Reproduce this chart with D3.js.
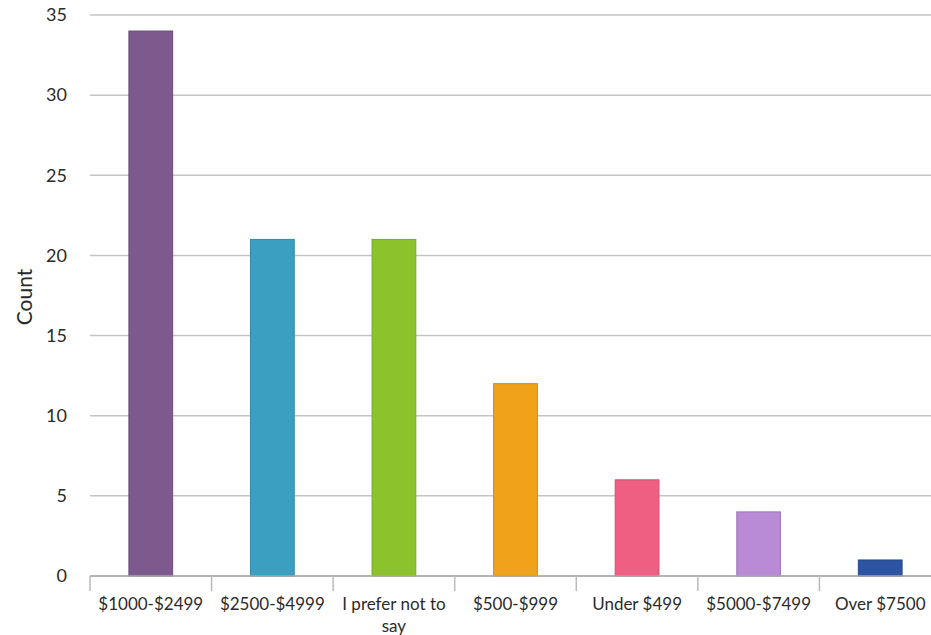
<!DOCTYPE html>
<html>
<head>
<meta charset="utf-8">
<script src="https://cdn.jsdelivr.net/npm/d3@7"></script>
<style>
  body { margin: 0; background: #fff; }
  text { font-family: Lato, "Open Sans", sans-serif; fill: #2b2b2b; }
</style>
</head>
<body>
<div id="chart"></div>
<script>
var categories = ["$1000-$2499", "$2500-$4999", "I prefer not to say", "$500-$999", "Under $499", "$5000-$7499", "Over $7500"];
var counts = [34, 21, 21, 12, 6, 4, 1];
var barColors = ["#7d5a8e", "#3a9fc0", "#8cc32c", "#f0a31a", "#ee5f82", "#b98ad6", "#2d54a3"];
var yTicks = [0, 5, 10, 15, 20, 25, 30, 35];

var margin = {top: 15, right: 0, bottom: 59, left: 90},
    width = 851,
    height = 635 - margin.top - margin.bottom;

var svg = d3.select("#chart")
    .append("svg")
      .attr("width", 931)
      .attr("height", 635)
    .append("g")
      .attr("transform", "translate(" + margin.left + "," + margin.top + ")");

var x = d3.scaleBand()
    .domain(categories)
    .range([0, width])
    .paddingInner(0.64)
    .paddingOuter(0.32);

var y = d3.scaleLinear()
    .domain([0, 35])
    .range([height, 0]);

// gridlines
svg.append("g")
    .selectAll("line")
    .data(yTicks)
    .enter()
    .append("line")
    .attr("x1", 0)
    .attr("x2", width)
    .attr("y1", function (d) { return y(d); })
    .attr("y2", function (d) { return y(d); })
    .attr("stroke", "#c4c4c4")
    .attr("stroke-width", 1.5);

// y tick labels
svg.append("g")
    .selectAll("text")
    .data(yTicks)
    .enter()
    .append("text")
    .attr("x", -23)
    .attr("y", function (d) { return y(d); })
    .attr("dy", "0.35em")
    .style("text-anchor", "end")
    .style("font-size", "18px")
    .text(function (d) { return d; });

// bars
svg.append("g")
    .selectAll("rect")
    .data(counts)
    .enter()
    .append("rect")
    .attr("x", function (d, i) { return x(categories[i]); })
    .attr("y", function (d) { return y(d); })
    .attr("width", x.bandwidth())
    .attr("height", function (d) { return height - y(d); })
    .style("fill", function (d, i) { return barColors[i]; })
    .style("stroke", function (d, i) { return d3.color(barColors[i]).darker(0.4); })
    .style("stroke-width", 1);

// x axis
var step = x.step();
var xAxis = svg.append("g")
    .attr("transform", "translate(0," + height + ")");
xAxis.append("line")
    .attr("x1", 0).attr("x2", width)
    .attr("stroke", "#aaa").attr("stroke-width", 1.5);
xAxis.selectAll(".tick")
    .data(d3.range(categories.length + 1))
    .enter()
    .append("line")
    .attr("x1", function (d) { return d * step; })
    .attr("x2", function (d) { return d * step; })
    .attr("y1", 0)
    .attr("y2", 15)
    .attr("stroke", "#bbb")
    .attr("stroke-width", 1.5);

var labels = xAxis.selectAll(".lab")
    .data(categories)
    .enter()
    .append("text")
    .attr("x", function (d) { return x(d) + x.bandwidth() / 2; })
    .attr("y", 34)
    .style("text-anchor", "middle")
    .style("font-size", "17px");
labels.each(function (d) {
    var t = d3.select(this);
    var lines = d === "I prefer not to say" ? ["I prefer not to", "say"] : [d];
    lines.forEach(function (l, k) {
        t.append("tspan")
            .attr("x", x(d) + x.bandwidth() / 2)
            .attr("dy", k === 0 ? 0 : 22)
            .text(l);
    });
});

// y axis title
svg.append("text")
    .attr("transform", "rotate(-90)")
    .attr("x", -282)
    .attr("y", -58)
    .style("text-anchor", "middle")
    .style("font-size", "21px")
    .text("Count");
</script>
</body>
</html>
